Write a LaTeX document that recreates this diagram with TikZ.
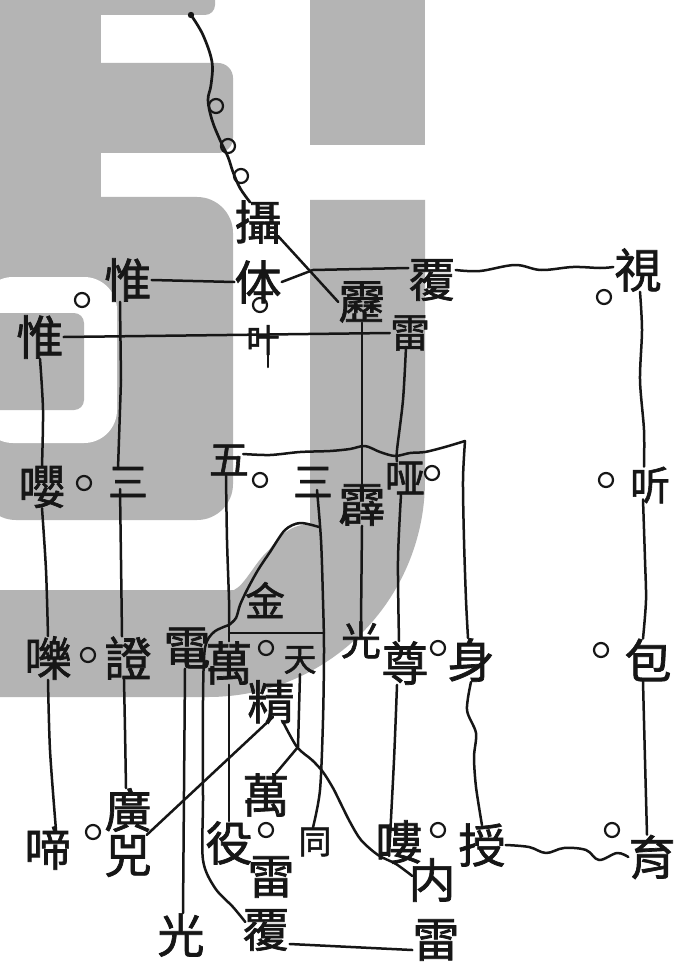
\documentclass[tikz,border=0pt]{standalone}
\usepackage{fontspec}
\usetikzlibrary{calc}
\newfontfamily\cjk{Noto Sans CJK TC}[FakeBold=1.5]
\definecolor{wm}{RGB}{180,180,180}
\definecolor{inkc}{RGB}{22,22,22}
\begin{document}
\begin{tikzpicture}[x=1pt,y=-1pt,
  chL/.style={font=\cjk\fontsize{47}{47}\selectfont, inner sep=0pt, text=inkc},
  chM/.style={font=\cjk\fontsize{40}{40}\selectfont, inner sep=0pt, text=inkc},
  chS/.style={font=\cjk\fontsize{33}{33}\selectfont, inner sep=0pt, text=inkc},
  bead/.style={circle, draw=inkc, line width=2.2pt, minimum size=14pt, inner sep=0pt},
  ink/.style={draw=inkc, line width=2.5pt, line cap=round, line join=round}]
\fill[white] (0,0) rectangle (689,968);
\useasboundingbox (0,0) rectangle (689,968);
% watermark
\begin{scope}
\clip (0,0) rectangle (689,968);
\fill[wm, rounded corners=10] (-20,-20) rectangle (215,15);
\fill[wm] (-20,-20) rectangle (101,300);
\fill[wm, rounded corners=15] (-20,63) rectangle (233,153);
\fill[wm, rounded corners=36] (-20,197) rectangle (233,520);
\fill[white, rounded corners=33] (-20,277) rectangle (117,443);
\fill[wm, rounded corners=10] (-20,313) rectangle (84,410);
\fill[wm] (310,-20) rectangle (425,145);
\fill[wm] (310,200) -- (425,200) -- (425,480) arc[start angle=0, end angle=90, radius=217]
  -- (-20,697) -- (-20,590) -- (234,590) .. controls (245,585) and (255,562) .. (269,550)
  .. controls (280,535) and (290,525) .. (310,524) -- cycle;
\end{scope}
% characters
\node[chL] (she) at (258,222) {攝};
\node[chL] (wei1) at (128,280) {惟};
\node[chL] (ti) at (258,282) {体};
\node[chL] (li) at (362,302) {靂};
\node[chL] (fu1) at (432,280) {覆};
\node[chL] (shi) at (638,270) {視};
\node[bead] (c1) at (82,300) {};
\node[bead] (c2) at (260,305) {};
\node[bead] (c3) at (604,297) {};
\node[chL] (wei2) at (40,337) {惟};
\node[chS] (ye) at (263,340) {叶};
\node[chM] (lei1) at (410,333) {雷};
\node[chL] (ying) at (42,487) {嚶};
\node[bead] (c4) at (84,483) {};
\node[chM] (san1) at (128,482) {三};
\node[chM] (wu) at (229,460) {五};
\node[bead] (c5) at (260,480) {};
\node[chM] (san2) at (313,482) {三};
\node[chL] (pi) at (362,505) {霹};
\node[chM] (ya) at (405,478) {哑};
\node[bead] (c6) at (432,473) {};
\node[bead] (c7) at (606,480) {};
\node[chM] (ting) at (650,485) {听};
\node[chM] (jin) at (265,600) {金};
\node[chL] (le) at (48,658) {嚛};
\node[bead] (c8) at (88,655) {};
\node[chL] (zheng) at (128,658) {證};
\node[chL] (dian) at (187,648) {電};
\node[chL] (wan1) at (229,663) {萬};
\node[bead] (c9) at (266,648) {};
\node[chS] (tian) at (300,660) {天};
\node[chM] (guang1) at (361,640) {光};
\node[chL] (zun) at (405,663) {尊};
\node[bead] (c10) at (438,648) {};
\node[chL] (shen) at (471,660) {身};
\node[bead] (c11) at (601,650) {};
\node[chL] (bao) at (648,660) {包};
\node[chL] (jing) at (271,702) {精};
\node[chL] (guang2) at (128,810) {廣};
\node[chL] (si) at (128,856) {兕};
\node[chL] (ti2) at (48,848) {啼};
\node[bead] (c12) at (93,832) {};
\node[chL] (wan2) at (266,795) {萬};
\node[chL] (yi) at (229,843) {役};
\node[bead] (c13) at (266,830) {};
\node[chS] (tong) at (315,842) {同};
\node[chL] (lei2) at (271,877) {雷};
\node[chL] (lou) at (399,842) {嘍};
\node[bead] (c14) at (438,830) {};
\node[chL] (shou) at (482,845) {授};
\node[bead] (c15) at (612,830) {};
\node[chL] (yu) at (652,857) {育};
\node[chL] (nei) at (432,880) {内};
\node[chL] (guang3) at (181,935) {光};
\node[chL] (fu2) at (266,930) {覆};
\node[chL] (lei3) at (436,940) {雷};
% beads on the top line
\node[bead] (b1) at (216,106) {};
\node[bead] (b2) at (228,146) {};
\node[bead] (b3) at (241,176) {};
\coordinate (top) at (191,15);
\fill[inkc] (top) circle (3.2);
\draw[ink, line width=2.7pt] plot[smooth, tension=0.6] coordinates {(top) (203,35) (212,62) (211,85) (208,100) (212,120) (220,140) (228,157) (233,172) (240,188) ($(she.north)+(-8,2)$)};
% connectors
\draw[ink] ($(she.center)+(20,14)$) -- (li.west);
\draw[ink] (wei1.east) -- (ti.west);
\draw[ink] (ti.east) -- (313,270) -- ($(fu1.west)+(0,-12)$);
\draw[ink] plot[smooth, tension=0.6] coordinates {($(fu1.east)+(0,-10)$) (480,271) (515,265) (541,270) (573,267) (600,268) ($(shi.west)+(-1,-3)$)};
\draw[ink] ($(wei1.south)+(-8,0)$) -- (121,380) -- ($(san1.north)+(-10,2)$);
\draw[ink] ($(san1.center)+(-8,7)$) -- (121,560) -- ($(zheng.north)+(-6,0)$);
\draw[ink] plot[smooth] coordinates {($(zheng.south)+(-4,0)$) (125,730) ($(guang2.north)+(-2,0)$)};
\draw[ink] (wei2.east) -- (lei1.west);
\draw[ink] ($(ye.center)+(5,8)$) -- ($(ye.center)+(5,27)$);
\draw[ink] plot[smooth] coordinates {(wei2.south) (43,410) (ying.north)};
\draw[ink] plot[smooth] coordinates {(ying.south) (46,570) (le.north)};
\draw[ink] plot[smooth] coordinates {(le.south) (50,750) ($(ti2.north)+(8,4)$)};
\draw[ink] (li.south) -- (pi.north);
\draw[ink] (pi.south) -- (guang1.north);
\draw[ink] plot[smooth] coordinates {($(lei1.south)+(-4,-4)$) (403,400) (397,450) ($(ya.north)+(-8,0)$)};
\draw[ink] plot[smooth] coordinates {($(ya.south)+(-4,0)$) (398,560) ($(zun.north)+(-6,0)$)};
\draw[ink] plot[smooth] coordinates {($(zun.south)+(-8,0)$) (394,760) ($(lou.center)+(-10,14)$)};
\coordinate (wr) at (465,441);
\draw[ink] plot[smooth, tension=0.5] coordinates {($(wu.east)+(-6,-6)$) (270,455) (300,452) (330,451) (350,449) (365,446) (380,452) (395,456) (410,453) (425,452) (445,447) (wr)};
\draw[ink] plot[smooth] coordinates {(wr) (463,480) (464,540) (466,600) ($(shen.north)+(-3,0)$)};
\draw[ink] plot[smooth] coordinates {(shen.south) (467,710) (476,733) (474,757) (476,787) ($(shou.north)+(0,2)$)};
\draw[ink] plot[smooth, tension=0.6] coordinates {(shou.east) (529,847) (546,853) (564,848) (586,850) (599,860) (617,853) (yu.west)};
\coordinate (wbend) at (229,625);
\draw[ink] plot[smooth] coordinates {($(wu.south)+(-3,0)$) (227,540) (229,600) (wbend)};
\draw[ink] (wbend) -- ($(wan1.north)+(0,0)$);
\draw[ink] plot[smooth, tension=0.5] coordinates {(wbend) (214,632) (205,648) (203,700) (203,800) (203,860) (215,888) (233,907) ($(fu2.west)+(3,-8)$)};
\coordinate (sb) at (319,527);
\draw[ink] plot[smooth, tension=0.5] coordinates {(sb) (300,523) (285,530) (270,552) (258,570) (247,590) (240,605) (236,618) (wbend)};
\draw[ink] (229,633) -- (324,633);
\draw[ink] (wan1.south) -- (yi.north);
\draw[ink] plot[smooth, tension=0.5] coordinates {($(san2.center)+(4,8)$) (321,540) (323,600) (324,650) (323,720) (320,790) ($(tong.north)+(-2,0)$)};
\draw[ink] ($(dian.south)+(-2,0)$) -- ($(guang3.north)+(2,0)$);
\draw[ink] ($(jing.center)+(2,15)$) -- ($(si.north east)+(-5,0)$);
\draw[ink] plot[smooth, tension=0.5] coordinates {($(jing.center)+(12,20)$) (297,747) (312,760) (323,772) (333,788) (340,802) (350,822) (361,840) (378,855) (396,864) ($(nei.west)+(4,-4)$)};
\draw[ink] (tian.south) -- (298,747) -- ($(wan2.north)+(10,0)$);
\draw[ink] ($(fu2.east)+(0,14)$) -- ($(lei3.west)+(0,10)$);
\draw[ink] plot[smooth] coordinates {($(shi.south)+(2,0)$) (642,330) (640,380) (644,430) ($(ting.north)+(-6,0)$)};
\draw[ink] plot[smooth] coordinates {($(ting.south)+(-7,-4)$) (645,560) (646,600) ($(bao.north)+(-5,0)$)};
\draw[ink] plot[smooth] coordinates {($(bao.south)+(-5,0)$) (645,760) ($(yu.north)+(-5,0)$)};
\end{tikzpicture}
\end{document}
